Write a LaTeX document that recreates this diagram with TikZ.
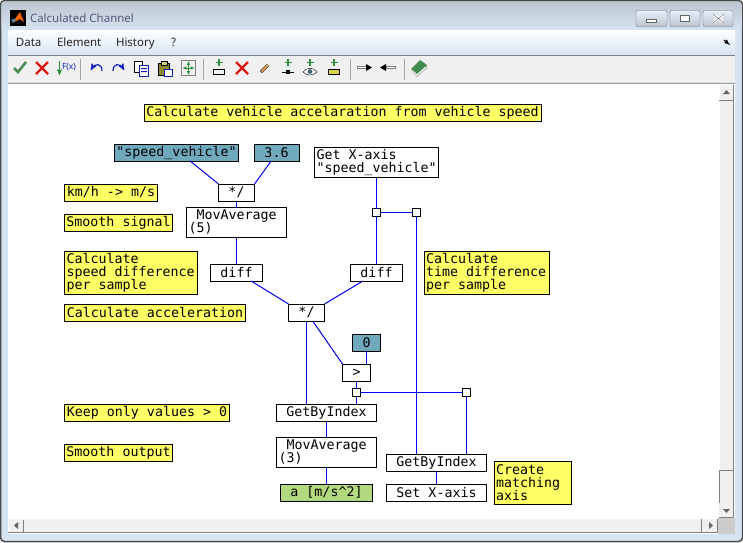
\documentclass[tikz,border=0pt]{standalone}
\usepackage{fontspec}
\setmonofont{DejaVu Sans Mono}
\setsansfont{Noto Sans}
\usepackage{tikz}
\usetikzlibrary{arrows}
\definecolor{wirecol}{HTML}{0000F0}
\definecolor{noteyel}{HTML}{FFFF66}
\definecolor{inteal}{HTML}{70A8BC}
\definecolor{outgreen}{HTML}{B3D980}
\definecolor{framecol}{HTML}{D6E4F2}
\definecolor{toolcol}{HTML}{F0F0F0}
\definecolor{iconblue}{HTML}{1020C0}
\definecolor{icongreen}{HTML}{2F8F3F}
\definecolor{iconred}{HTML}{E01818}
\begin{document}
\begin{tikzpicture}[x=1pt,y=-1pt,
  every node/.style={inner sep=0pt,outer sep=0pt},
  every edge/.style={draw=wirecol,line width=1pt},
  wh/.style 2 args={minimum width=#1pt,minimum height=#2pt}]
  \tikzstyle{block}=[draw=black,line width=1pt,fill=white,font=\ttfamily\fontsize{13.3}{13}\selectfont]
  \tikzstyle{note}=[block,fill=noteyel]
  \tikzstyle{input}=[block,fill=inteal]
  \tikzstyle{output}=[block,fill=outgreen]
  \tikzstyle{joint}=[draw=black,line width=1pt,fill=white,minimum size=8pt]
  \tikzstyle{menu}=[font=\sffamily\fontsize{11.5}{13}\selectfont,text=black!85,anchor=west,text height=9pt,text depth=3pt]
  \tikzstyle{winbtn}=[draw=black!15!blue!10!gray,rounded corners=2pt,top color=framecol!60!white,bottom color=framecol!70!gray]
  \tikzstyle{scroll}=[fill=toolcol,draw=none]
  \useasboundingbox (0,0) rectangle (743,542);

  % window frame
  \fill[white] (0,0) rectangle (743,542);
  \fill[framecol,draw=black!70,line width=1.5pt,rounded corners=4pt] (0.5,0.5) rectangle (742.5,541.5);
  \shade[top color=framecol!70!gray,bottom color=framecol,rounded corners=3pt] (1.5,1.5) rectangle (741.5,30);
  \shade[top color=white,bottom color=framecol] (8,30) rectangle (735,55);
  \fill[toolcol] (8,56) rectangle (735,82);
  \draw[black!50] (8,55.5) -- (735,55.5);
  \draw[black!40] (8,83) -- (735,83);
  \fill[white] (8,84) rectangle (735,534);

  % title bar
  \fill[black] (10,10) rectangle (26,26);
  \fill[orange!80!red] (12,23) -- (20,12) -- (24,22) -- (20,19) -- cycle;
  \fill[cyan!60!black] (11,20) -- (16,18) -- (14,23) -- cycle;
  \node[anchor=west,font=\sffamily\fontsize{11.5}{13}\selectfont,text=black!55!blue!30!gray] (caption) at (30,18) {Calculated Channel};
  \draw[winbtn] (636,10.5) rectangle (667,26.5);
  \draw[winbtn] (670,10.5) rectangle (700,26.5);
  \draw[winbtn] (703,10.5) rectangle (733,26.5);
  \draw[black!60,line width=1pt,fill=white] (646,19.5) rectangle (656,22.5);
  \draw[black!60,line width=1pt,fill=white] (680,15.5) rectangle (689,21.5);
  \draw[white,line width=3pt] (714,15) -- (723,22) (723,15) -- (714,22);
  \draw[black!50,line width=.6pt] (713,14) -- (724,23) (724,14) -- (713,23);

  % menu
  \node[menu] (mdata) at (16,43) {Data};
  \node[menu] (melement) at (57,43) {Element};
  \node[menu] (mhistory) at (116,43) {History};
  \node[menu] (mhelp) at (171,43) {?};
  \draw[black,line width=1pt,-latex] (724,40) -- (730,45);

  % toolbar
  \foreach \sx in {80.5,203.5,350.5,404.5} \draw[black!35] (\sx,59) -- (\sx,80);
  \foreach \px in {219,288,310,334} \draw[icongreen,line width=1.6pt] (\px,59) -- (\px,66) (\px-3.5,62.5) -- (\px+3.5,62.5);
  \draw[icongreen!70!gray,line width=2.5pt] (14,68) -- (18,72) -- (26,62);
  \foreach \px in {42,242} \draw[iconred,line width=2.2pt] (\px-6,62) -- (\px+6,74) (\px+6,62) -- (\px-6,74);
  \draw[icongreen,line width=1pt,-stealth'] (59.5,61) -- (59.5,75);
  \node[font=\sffamily\fontsize{8.5}{9}\selectfont,text=iconblue,anchor=west] (ifx) at (62,67) {F(x)};
  \draw[iconblue,line width=1.2pt,-stealth'] (102,71) .. controls (102,63) and (95,63) .. (91,70);
  \draw[iconblue,line width=1.2pt,-stealth'] (113,71) .. controls (113,63) and (120,63) .. (124,70);
  \draw[black,fill=white] (134.5,61.5) rectangle (142.5,72.5);
  \draw[iconblue,fill=white] (139.5,65.5) rectangle (148.5,76.5);
  \fill[iconblue] (141,68) rectangle (147,69) (141,71) rectangle (147,72);
  \draw[black,fill=olive!70!gray] (158.5,63.5) rectangle (169.5,75.5);
  \draw[black,fill=olive!40!white] (161,61) rectangle (167,65);
  \draw[iconblue,fill=white] (164.5,69.5) rectangle (172.5,76.5);
  \draw[black!50] (181.5,60.5) rectangle (195.5,75.5);
  \draw[icongreen,<->,>=stealth'] (183,68) -- (194,68);
  \draw[icongreen,<->,>=stealth'] (188.5,61.5) -- (188.5,74.5);
  \draw[black,line width=1pt] (213.5,69.5) rectangle (224.5,74.5);
  \draw[black!80,line width=3pt] (261,72) -- (268,65);
  \draw[orange!70!white,line width=1.5pt] (261.5,71.5) -- (268,65);
  \draw[black,line width=1pt] (282,72) -- (294,72);
  \fill[black] (286,70) rectangle (290,74);
  \draw[black,fill=white] (303,72) .. controls (307,67) and (313,67) .. (317,72) .. controls (313,76) and (307,76) .. (303,72) -- cycle;
  \fill[black!60!cyan] (310,71.5) circle (2.4pt);
  \draw[black,line width=1pt,fill=yellow!70!gray] (328.5,69.5) rectangle (339.5,74.5);
  \draw[black!50,fill=white] (357,66.5) rectangle (366,68.5);
  \fill[black] (366,64) -- (372,67.5) -- (366,71) -- cycle;
  \draw[black!50,fill=white] (386,66.5) rectangle (395,68.5);
  \fill[black] (386,64) -- (380,67.5) -- (386,71) -- cycle;
  \fill[gray!60] (411,71) -- (417,77) -- (427,68) -- (427,65) -- cycle;
  \fill[white] (412,71) -- (417,75.5) -- (426,67.5) -- (421,63) -- cycle;
  \fill[icongreen!75!gray] (411,69) -- (420,60) -- (427,65) -- (417,74) -- cycle;

  % scrollbars
  \fill[scroll] (719,85) rectangle (733,518);
  \draw[white] (719.5,85) -- (719.5,470);
  \draw[black!50,line width=1pt] (719,100.5) -- (733,100.5) (733.5,85) -- (733.5,518) (719,470.5) -- (733,470.5) (719.5,470) -- (719.5,503) (719,517.5) -- (734,517.5);
  \fill[black!60] (723,94) -- (730,94) -- (726.5,90) -- cycle;
  \fill[black!60] (723,509) -- (730,509) -- (726.5,513) -- cycle;
  \fill[scroll] (9,519) rectangle (718,532);
  \draw[black!50,line width=1pt] (8,532.5) -- (719,532.5) (23.5,520) -- (23.5,532) (701.5,519) -- (701.5,532) (717.5,519) -- (717.5,532);
  \fill[black!60] (18,522) -- (18,529) -- (14,525.5) -- cycle;
  \fill[black!60] (709,522) -- (709,529) -- (713,525.5) -- cycle;
  \fill[black!20] (718,518) rectangle (735,534);

  % notes
  \node[note,wh={397}{17}] (title) at (342.5,112.5) {Calculate vehicle accelaration from vehicle speed};
  \node[note,wh={93}{17},anchor=west] (nunit) at (64.5,192.5) {km/h -> m/s};
  \node[note,wh={108}{17},anchor=west] (nsmooth) at (64.5,222.5) {Smooth signal};
  \node[note,wh={133}{43},text width=129pt,align=flush left,anchor=west] (nspeed) at (64.5,272.5) {Calculate\\speed difference\\per sample};
  \node[note,wh={181}{17},anchor=west] (naccel) at (64.5,312.5) {Calculate acceleration};
  \node[note,wh={165}{17},anchor=west] (nkeep) at (64.5,412.5) {Keep only values > 0};
  \node[note,wh={108}{17},anchor=west] (noutput) at (64.5,452.5) {Smooth output};
  \node[note,wh={125}{43},text width=121pt,align=flush left] (ntime) at (486.5,272.5) {Calculate\\time difference\\per sample};
  \node[note,wh={77}{43},text width=73pt,align=flush left] (naxis) at (532.5,482.5) {Create\\matching\\axis};

  % blocks
  \node[input,wh={124}{17}] (speed) at (176.5,152.5) {"speed\_vehicle"};
  \node[input,wh={45}{17}] (factor) at (276.5,152.5) {3.6};
  \node[block,wh={36}{17}] (scale) at (236.5,192.5) {*/};
  \node[block,wh={100}{30},text width=96pt,align=flush left] (avgfive) at (236.5,222.5) {\hphantom{M}MovAverage\\(5)};
  \node[block,wh={52}{17}] (diffv) at (236.5,272.5) {diff};
  \node[block,wh={124}{30},text width=120pt,align=flush left] (xaxis) at (376.5,162.5) {Get X-axis\\"speed\_vehicle"};
  \node[joint] (jtop) at (376.5,212.5) {};
  \node[joint] (jtopr) at (416.5,212.5) {};
  \node[block,wh={52}{17}] (difft) at (376.5,272.5) {diff};
  \node[block,wh={36}{17}] (accel) at (306.5,312.5) {*/};
  \node[input,wh={28}{17}] (zero) at (366.5,342.5) {0};
  \node[block,wh={28}{17}] (gt) at (356.5,372.5) {>};
  \node[joint] (jgt) at (356.5,392.5) {};
  \node[joint] (jgtr) at (466.5,392.5) {};
  \node[block,wh={100}{17}] (getv) at (326.5,412.5) {GetByIndex};
  \node[block,wh={100}{30},text width=96pt,align=flush left] (avgthree) at (326.5,452.5) {\hphantom{M}MovAverage\\(3)};
  \node[output,wh={92}{17}] (result) at (326.5,492.5) {a [m/s\textasciicircum 2]};
  \node[block,wh={100}{17}] (gett) at (436.5,462.5) {GetByIndex};
  \node[block,wh={100}{17}] (setx) at (436.5,492.5) {Set X-axis};

  \path (speed.-32) edge (scale.north west)
        (factor.-122) edge (scale.north east)
        (scale) edge (avgfive)
        (avgfive) edge (diffv)
        (diffv.-30) edge (accel.north west)
        (difft.-148) edge (accel.north east)
        (xaxis) edge (jtop)
        (jtop) edge (difft)
        (jtop) edge (jtopr)
        (jtopr) edge (gett.north -| jtopr)
        (accel) edge (getv.north -| accel)
        (accel.-54) edge (gt.north west)
        (zero) edge (gt.north -| zero)
        (gt) edge (jgt)
        (jgt) edge (getv.north -| jgt)
        (jgt) edge (jgtr)
        (jgtr) edge (gett.north -| jgtr)
        (getv) edge (avgthree)
        (avgthree) edge (result)
        (gett) edge (setx);
\end{tikzpicture}
\end{document}
